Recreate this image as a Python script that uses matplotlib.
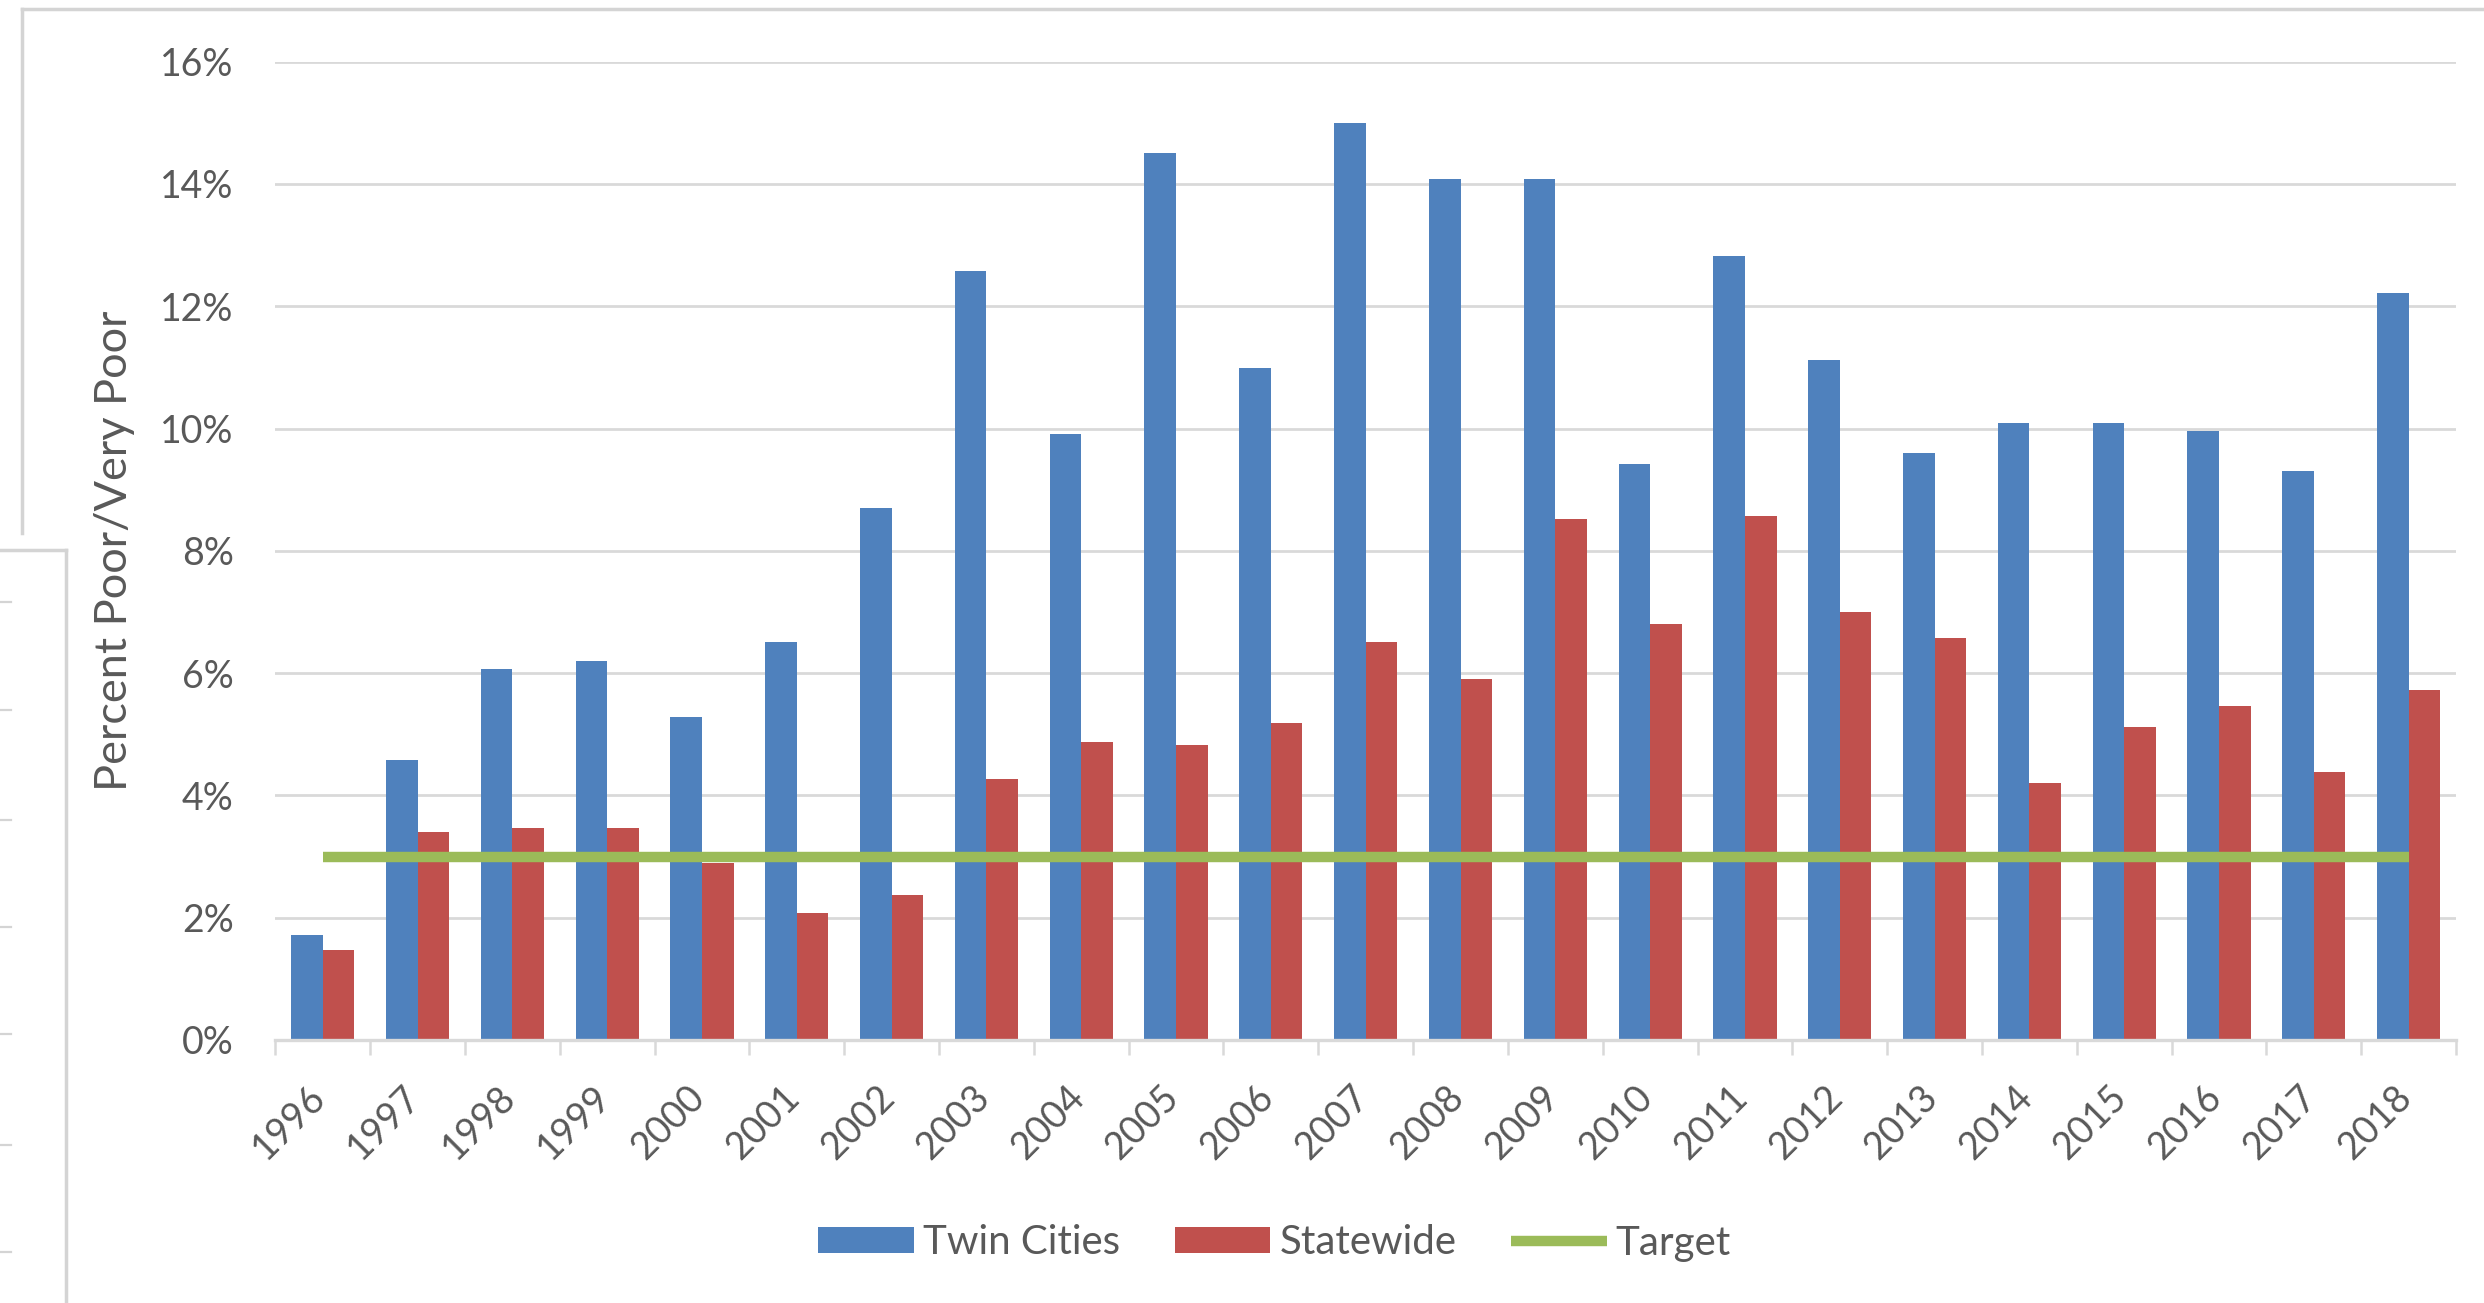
import matplotlib
matplotlib.use("Agg")
import matplotlib.pyplot as plt
from matplotlib.lines import Line2D
from matplotlib.ticker import FixedLocator, FuncFormatter
import matplotlib.transforms as mtransforms

plt.rcParams['font.family'] = ['Lato', 'DejaVu Sans']

years = ['1996', '1997', '1998', '1999', '2000', '2001', '2002', '2003', '2004', '2005',
         '2006', '2007', '2008', '2009', '2010', '2011', '2012', '2013', '2014', '2015',
         '2016', '2017', '2018']
twin_cities = [1.72, 4.58, 6.06, 6.20, 5.28, 6.51, 8.70, 12.57, 9.91, 14.51,
               10.99, 14.99, 14.08, 14.08, 9.42, 12.82, 11.12, 9.60, 10.09, 10.09,
               9.96, 9.30, 12.22]
statewide = [1.47, 3.40, 3.47, 3.47, 2.90, 2.07, 2.37, 4.27, 4.87, 4.82,
             5.18, 6.51, 5.90, 8.52, 6.81, 8.57, 7.00, 6.57, 4.20, 5.12,
             5.47, 4.39, 5.72]
target = [3.0, 3.0, 3.0, 3.0, 3.0, 3.0, 3.0, 3.0, 3.0, 3.0, 3.0, 3.0,
          3.0, 3.0, 3.0, 3.0, 3.0, 3.0, 3.0, 3.0, 3.0, 3.0, 3.0]
y_ticks = [0, 2, 4, 6, 8, 10, 12, 14, 16]
series_names = ['Twin Cities', 'Statewide', 'Target']

BLUE = '#4F81BD'
RED = '#C0504D'
GREEN = '#9BBB59'
GRID = '#D9D9D9'
TEXT = '#595959'

W, H = 2484, 1303
fig = plt.figure(figsize=(W / 100, H / 100), dpi=100)
fig.patch.set_facecolor('white')

left, right = 275.4 / W, 2456 / W
bottom, top = 1 - 1040 / H, 1 - 61.6 / H
ax = fig.add_axes([left, bottom, right - left, top - bottom])

x = list(range(len(years)))
bw = 1 / 3
b1 = ax.bar([i - bw / 2 for i in x], twin_cities, width=bw, color=BLUE, zorder=2,
            label=series_names[0])
b2 = ax.bar([i + bw / 2 for i in x], statewide, width=bw, color=RED, zorder=2,
            label=series_names[1])
l1, = ax.plot(x, target, color=GREEN, lw=7.5, zorder=3, label=series_names[2],
              solid_capstyle='butt')

ax.set_xlim(-0.5, len(years) - 0.5)
ax.set_ylim(0, 16)
ax.yaxis.set_major_locator(FixedLocator(y_ticks))
ax.yaxis.set_major_formatter(FuncFormatter(lambda v, p: f"{v:.0f}%"))
ax.grid(axis='y', color=GRID, lw=2.0, zorder=0)
ax.set_axisbelow(True)

for s in ['left', 'right', 'top']:
    ax.spines[s].set_visible(False)
ax.spines['bottom'].set_color(GRID)
ax.spines['bottom'].set_linewidth(2.4)
ax.spines['bottom'].set_zorder(4)

ax.tick_params(axis='y', length=0, pad=30, labelsize=27, labelcolor=TEXT)
ax.set_xticks(x)
ax.set_xticklabels(years)
ax.tick_params(axis='x', which='major', length=0, pad=28, labelsize=27,
               labelcolor=TEXT)
ax.set_xticks([i - 0.5 for i in range(len(years) + 1)], minor=True)
ax.tick_params(axis='x', which='minor', length=11, width=1.8, color=GRID)

offset = mtransforms.ScaledTranslation(10 / 100, 0, fig.dpi_scale_trans)
for lab in ax.get_xticklabels():
    lab.set_rotation(45)
    lab.set_ha('right')
    lab.set_va('top')
    lab.set_transform(lab.get_transform() + offset)

ax.set_ylabel('Percent Poor/Very Poor', fontsize=32.5, color=TEXT)
ax.yaxis.set_label_coords((135 - 275.4) / (2456 - 275.4), 0.5)

leg = fig.legend([b1, b2, l1], series_names, loc='center', ncol=3, frameon=False,
                 bbox_to_anchor=(1274.5 / W, 1 - 1243 / H), fontsize=29,
                 handlelength=2.38, handleheight=0.62, handletextpad=0.22,
                 columnspacing=1.36, labelcolor=TEXT)

# screenshot frame artefacts
FR = '#D4D4D4'
def fline(xs, ys, lw=2.5):
    fig.add_artist(Line2D([v / W for v in xs], [1 - v / H for v in ys],
                          transform=fig.transFigure, color=FR, lw=lw))

fline([22, W], [9, 9])
fline([22, 22], [9, 533])
fline([0, 66], [550, 550])
fline([66, 66], [550, H])
for yy in [602, 710, 820, 927, 1034, 1145, 1252]:
    fline([0, 11], [yy, yy], lw=1.6)

fig.savefig('out.png', dpi=100, facecolor='white')
